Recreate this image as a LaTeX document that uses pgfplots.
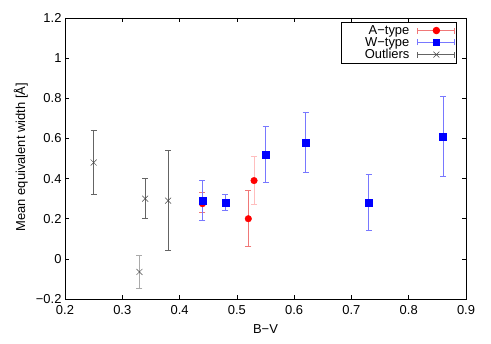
\documentclass[border=0pt]{standalone}
\usepackage{fontspec}
\setmainfont{Liberation Sans}
\usepackage{pgfplots}
\usepackage{pgfplotstable}
\pgfplotsset{compat=1.18}

\pgfplotstableread{
x y ep em
0.52 0.20 0.14 0.14
0.44 0.275 0.055 0.045
}\tabA
\pgfplotstableread{
x y ep em
0.53 0.39 0.12 0.12
}\tabAb
\pgfplotstableread{
x y ep em
0.44 0.29 0.10 0.10
0.48 0.28 0.04 0.04
0.55 0.52 0.14 0.14
0.62 0.58 0.15 0.15
0.73 0.28 0.14 0.14
0.86 0.61 0.20 0.20
}\tabW
\pgfplotstableread{
x y ep em
0.25 0.48 0.16 0.16
0.34 0.30 0.10 0.10
0.38 0.29 0.25 0.25
}\tabO
\pgfplotstableread{
x y ep em
0.33 -0.065 0.083 0.082
}\tabOb

\definecolor{errred}{RGB}{240,120,120}
\definecolor{errredl}{RGB}{255,190,190}
\definecolor{errblue}{RGB}{120,120,255}
\definecolor{errgray}{RGB}{100,100,100}
\definecolor{errgrayl}{RGB}{170,170,170}
\definecolor{markgray}{RGB}{70,70,70}

\pgfplotsset{
  errleg/.style={legend image code/.code={
    \path[draw=none, fill=none] (0bp,-3bp) (44bp,3bp);
    \draw[#1, line width=0.8pt] (7bp,0bp)--(44bp,0bp) (7bp,-3bp)--(7bp,3bp) (44bp,-3bp)--(44bp,3bp);
    \draw[##1, mark repeat=2, mark phase=2] plot coordinates {(25bp,0bp)(25.5bp,0bp)(26bp,0bp)};
  }},
  ebars/.style={/pgfplots/error bars/y dir=both, /pgfplots/error bars/y explicit,
    /pgfplots/error bars/error bar style={color=#1, line width=0.8pt},
    /pgfplots/error bars/error mark options={rotate=90, color=#1, mark size=3bp, line width=0.8pt}},
}

\begin{document}
\begin{tikzpicture}
\begin{axis}[
  scale only axis, width=401bp, height=281bp,
  xmin=0.2, xmax=0.9, ymin=-0.2, ymax=1.2,
  font=\fontsize{13}{15}\selectfont,
  xtick={0.2,0.3,0.4,0.5,0.6,0.7,0.8,0.9},
  xticklabels={0.2,0.3,0.4,0.5,0.6,0.7,0.8,0.9},
  ytick={-0.2,0,0.2,0.4,0.6,0.8,1,1.2},
  yticklabels={−0.2,0,0.2,0.4,0.6,0.8,1,1.2},
  xticklabel style={yshift=-3bp},
  tick align=inside, major tick length=4bp,
  tick style={black, line width=0.6pt},
  axis line style={line width=0.8pt},
  every axis y label/.style={at={(axis description cs:-0.11,0.505)}, rotate=90, anchor=center},
  every axis x label/.style={at={(axis description cs:0.5,-0.1068)}, anchor=center},
  xlabel={B−V},
  ylabel={Mean equivalent width [Å]},
  legend style={at={(0.978,0.986)}, anchor=north east, draw=black, line width=0.8pt,
    font=\fontsize{13}{13}\selectfont, inner sep=1.5bp, row sep=-1.5bp,
    nodes={inner sep=1.5bp}},
  legend cell align=right,
  legend plot pos=right,
]
\addplot[only marks, mark=*, color=red, mark size=3.3bp, errleg=errred, ebars=errred]
  table[x=x, y=y, y error plus=ep, y error minus=em] {\tabA};
\addlegendentry{A−type}
\addplot[only marks, mark=*, color=red, mark size=3.3bp, ebars=errredl, forget plot]
  table[x=x, y=y, y error plus=ep, y error minus=em] {\tabAb};
\addplot[only marks, mark=square*, color=blue, mark size=3.4bp, errleg=errblue, ebars=errblue]
  table[x=x, y=y, y error plus=ep, y error minus=em] {\tabW};
\addlegendentry{W−type}
\addplot[only marks, mark=x, color=markgray, mark size=4.2bp, mark options={line width=0.5pt}, errleg=errgray, ebars=errgray]
  table[x=x, y=y, y error plus=ep, y error minus=em] {\tabO};
\addlegendentry{\hspace*{20bp}Outliers}
\addplot[only marks, mark=x, color=markgray, mark size=4.2bp, mark options={line width=0.5pt}, ebars=errgrayl, forget plot]
  table[x=x, y=y, y error plus=ep, y error minus=em] {\tabOb};
\end{axis}
\pgfresetboundingbox
\path ([shift={(-65bp,-44bp)}]current axis.south west) rectangle ([shift={(25bp,18bp)}]current axis.north east);
\end{tikzpicture}
\end{document}
